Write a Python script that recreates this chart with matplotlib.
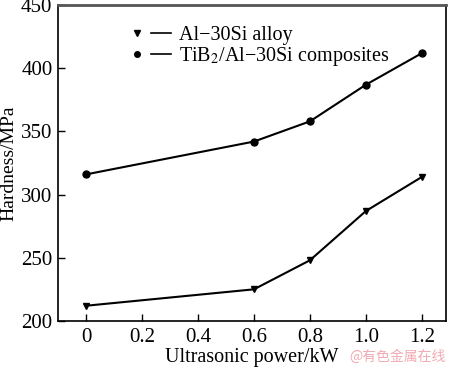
import matplotlib
matplotlib.use("Agg")
import matplotlib.pyplot as plt
from matplotlib.lines import Line2D
from matplotlib.legend_handler import HandlerTuple

# Datos del grafico
potencia = [0, 0.6, 0.8, 1.0, 1.2]
dureza_aleacion = [212, 225, 248, 287, 314]
dureza_compuesto = [316, 342, 358, 387, 412]
xticks = [0, 0.2, 0.4, 0.6, 0.8, 1.0, 1.2]
xtick_labels = ["0", "0.2", "0.4", "0.6", "0.8", "1.0", "1.2"]
yticks = [200, 250, 300, 350, 400, 450]

plt.rcParams['font.family'] = ['Liberation Serif', 'DejaVu Serif']
plt.rcParams['mathtext.fontset'] = 'stix'

fig = plt.figure(figsize=(4.5, 3.68), dpi=100)
ax = fig.add_axes([0.129, 0.128, 0.862, 0.858])

ax.plot(potencia, dureza_aleacion, color="black", lw=1.5, marker="v", ms=5)
ax.plot(potencia, dureza_compuesto, color="black", lw=1.5, marker="o", ms=5)

ax.set_xlim(-0.1, 1.286)
ax.set_ylim(200, 450)
ax.set_xticks(xticks)
ax.set_xticklabels(xtick_labels)
ax.set_yticks(yticks)
ax.tick_params(direction="in", length=5, width=1, labelsize=15, colors="black")
ax.tick_params(axis="x", pad=5)
ax.tick_params(axis="y", pad=4)
for s in ax.spines.values():
    s.set_linewidth(1.2)
ax.spines["top"].set_color("#555555")
ax.spines["top"].set_linewidth(2)

ax.set_xlabel("Ultrasonic power/kW", fontsize=14.5, labelpad=1)
ax.set_ylabel("Hardness/MPa", fontsize=14, labelpad=3)

# Leyenda: marcador, luego linea
m1 = Line2D([], [], color="black", marker="v", ms=4, ls="none")
m2 = Line2D([], [], color="black", marker="o", ms=4, ls="none")
l1 = Line2D([], [], color="black", lw=1.2)
ax.legend([(m1, l1), (m2, l1)],
          ["Al\u221230Si alloy", "TiB$_2$/Al\u221230Si composites"],
          handler_map={tuple: HandlerTuple(ndivide=None, pad=0.15)},
          loc="upper left", bbox_to_anchor=(0.152, 0.967), frameon=False,
          fontsize=14.5, handlelength=2.2, handletextpad=0.4,
          labelspacing=0.0, borderpad=0.0)

# Marca de agua
fig.text(0.99, 0.01, "@有色金属在线", color="#f2aab4", fontsize=10,
         ha="right", va="bottom", family=["Noto Sans CJK SC", "DejaVu Sans"])

fig.savefig("out.png", dpi=100)
